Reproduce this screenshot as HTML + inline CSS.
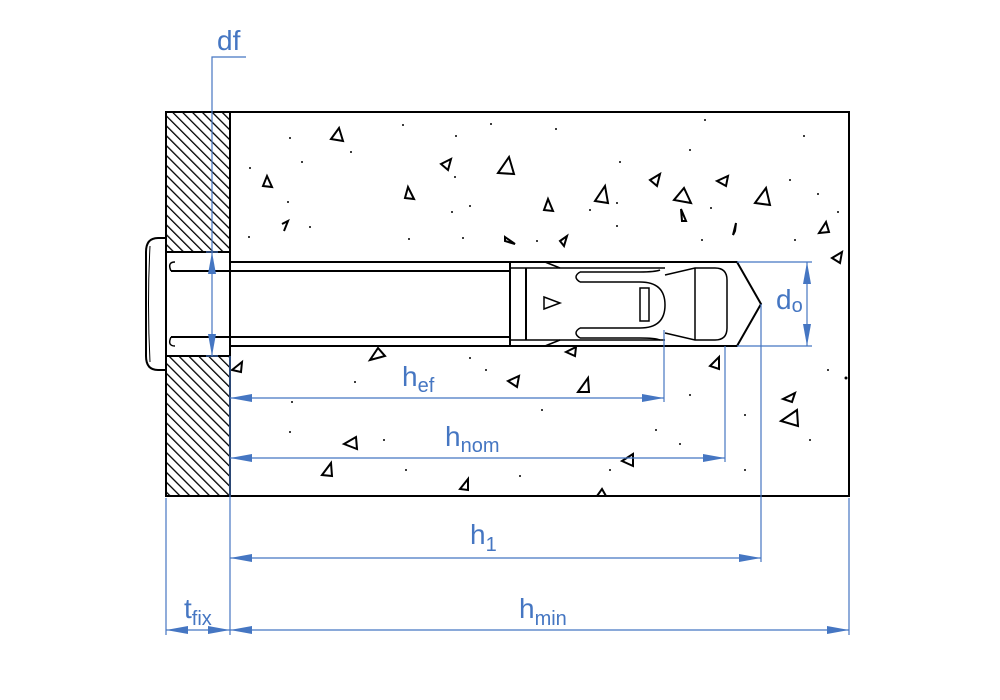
<!DOCTYPE html>
<html><head><style>html,body{margin:0;padding:0;background:#fff}svg{display:block}</style></head><body>
<svg width="1000" height="700" viewBox="0 0 1000 700" xmlns="http://www.w3.org/2000/svg" font-family="Liberation Sans, sans-serif">
<defs>
<pattern id="h" width="7" height="7" patternUnits="userSpaceOnUse" patternTransform="rotate(-45)">
<rect width="7" height="7" fill="#fff"/><line x1="0" y1="0" x2="0" y2="7" stroke="#000" stroke-width="2.6"/></pattern>
</defs>
<!-- wall -->
<rect x="166" y="112" width="64" height="140" fill="url(#h)" stroke="#000" stroke-width="2"/>
<rect x="166" y="356" width="64" height="140" fill="url(#h)" stroke="#000" stroke-width="2"/>
<!-- concrete -->
<rect x="230" y="112" width="619" height="384" fill="none" stroke="#000" stroke-width="2"/>
<g fill="none" stroke="#000" stroke-width="2">
<path d="M343,141 L339,128 L331,139 Z"/><path d="M272,187 L267,176 L263,186 Z"/>
<path d="M414,199 L408,187 L405,198 Z"/><path d="M441,164 L451,159 L448,170 Z"/>
<path d="M514,174 L509,157 L498,173 Z"/><path d="M553,211 L548,199 L544,210 Z"/>
<path d="M282,224 L288,221 L284,231"/><path d="M608,203 L605,186 L595,201 Z"/>
<path d="M682,221 L681,209 L686,221 Z"/><path d="M650,180 L660,174 L657,186 Z"/>
<path d="M691,203 L684,188 L674,200 Z"/><path d="M735,231 L736,223 L733,235 Z"/>
<path d="M505,241 L505,237 L515,244 Z"/><path d="M717,181 L728,176 L726,186 Z"/>
<path d="M770,205 L766,188 L755,203 Z"/><path d="M829,232 L826,222 L819,233 Z"/>
<path d="M832,258 L842,252 L840,263 Z"/><path d="M560,241 L567,236 L564,246 Z"/>
<path d="M370,360 L385,356 L378,348 Z"/><path d="M232,370 L242,362 L241,372 Z"/>
<path d="M508,381 L519,376 L517,387 Z"/><path d="M578,392 L588,378 L589,392 Z"/>
<path d="M566,352 L576,347 L575,356 Z"/><path d="M710,366 L719,357 L719,369 Z"/>
<path d="M783,399 L795,393 L792,402 Z"/><path d="M781,421 L797,410 L798,426 Z"/>
<path d="M344,444 L356,437 L357,449 Z"/><path d="M322,475 L331,463 L332,476 Z"/>
<path d="M622,461 L633,454 L633,466 Z"/><path d="M460,489 L468,479 L468,490 Z"/>
<path d="M597,496 L602,489 L606,496"/>
</g>
<g fill="#000">
<circle cx="403" cy="125" r="1"/><circle cx="491" cy="124" r="1"/><circle cx="290" cy="138" r="1"/><circle cx="456" cy="136" r="1"/><circle cx="556" cy="129" r="1"/><circle cx="302" cy="162" r="1"/><circle cx="351" cy="152" r="1"/><circle cx="620" cy="162" r="1"/><circle cx="690" cy="150" r="1"/><circle cx="705" cy="120" r="1"/><circle cx="804" cy="136" r="1"/><circle cx="250" cy="168" r="1"/><circle cx="455" cy="177" r="1"/><circle cx="617" cy="203" r="1"/><circle cx="288" cy="202" r="1"/><circle cx="409" cy="239" r="1"/><circle cx="452" cy="212" r="1"/><circle cx="463" cy="238" r="1"/><circle cx="470" cy="206" r="1"/><circle cx="590" cy="210" r="1"/><circle cx="617" cy="226" r="1"/><circle cx="537" cy="241" r="1"/><circle cx="249" cy="237" r="1"/><circle cx="310" cy="227" r="1"/><circle cx="790" cy="180" r="1"/><circle cx="711" cy="208" r="1"/><circle cx="702" cy="240" r="1"/><circle cx="838" cy="212" r="1"/><circle cx="818" cy="194" r="1"/><circle cx="795" cy="240" r="1"/><circle cx="846" cy="378" r="1.5"/><circle cx="828" cy="370" r="1"/><circle cx="470" cy="358" r="1"/><circle cx="542" cy="410" r="1"/><circle cx="355" cy="382" r="1"/><circle cx="486" cy="370" r="1"/><circle cx="690" cy="395" r="1"/><circle cx="610" cy="470" r="1"/><circle cx="680" cy="444" r="1"/><circle cx="406" cy="470" r="1"/><circle cx="384" cy="440" r="1"/><circle cx="290" cy="432" r="1"/><circle cx="745" cy="415" r="1"/><circle cx="810" cy="440" r="1"/><circle cx="520" cy="476" r="1"/><circle cx="292" cy="402" r="1"/><circle cx="745" cy="470" r="1"/><circle cx="656" cy="430" r="1"/>
</g>
<!-- bolt in wall -->
<rect x="167" y="253" width="62" height="102" fill="#fff"/>
<line x1="166" y1="252" x2="230" y2="252" stroke="#000" stroke-width="2"/>
<line x1="166" y1="356" x2="230" y2="356" stroke="#000" stroke-width="2"/>
<!-- head -->
<path d="M166,238 L158,238 Q146,238 146,252 L146,356 Q146,370 158,370 L166,370 Z" fill="#fff" stroke="#000" stroke-width="2"/>
<line x1="166" y1="238" x2="166" y2="370" stroke="#000" stroke-width="2"/>
<path d="M150,246 Q147,304 150,362" fill="none" stroke="#000" stroke-width="1"/>
<path d="M171,271 Q167,262 175,262 M171,337 Q167,346 175,346" fill="none" stroke="#000" stroke-width="1.5"/>
<g stroke="#000" stroke-width="2" fill="none">
<line x1="171" y1="271" x2="510" y2="271"/><line x1="230" y1="262" x2="510" y2="262"/>
<line x1="171" y1="337" x2="510" y2="337"/><line x1="230" y1="346" x2="510" y2="346"/>
<!-- sleeve -->
<path d="M510,262 L737,262 L761,304 L737,346 L510,346 Z" fill="#fff"/>
<line x1="526" y1="268" x2="526" y2="340"/>
<path d="M545,262 L560,268 M545,346 L560,340" stroke-width="1.5"/>
<path d="M510,268 L665,268 M510,340 L665,340" stroke-width="1.5"/>
<path d="M580,272 L640,272 Q655,272 660,270 M580,282 L640,282 Q665,282 665,305 Q665,328 640,328 L580,328 M580,338 L640,338 Q655,338 660,340" stroke-width="1.5"/>
<path d="M580,272 Q572,277 580,282 M580,328 Q572,333 580,338" stroke-width="1.5"/>
<path d="M665,275 L695,268 L715,268 Q727,268 727,280 L727,328 Q727,340 715,340 L695,340 L665,333" stroke-width="1.5"/>
<line x1="695" y1="268" x2="695" y2="340" stroke-width="1.5"/>
<rect x="640" y="288" width="9" height="33" stroke-width="1.5"/>
<path d="M544,297 L560,303 L544,309 Z" stroke-width="1.5"/>
</g>
<!-- blue dims -->
<g stroke="#4576c2" stroke-width="1.2" fill="none">
<polyline points="246,57 212,57 212,356"/>
<line x1="206" y1="252" x2="218" y2="252"/><line x1="206" y1="356" x2="218" y2="356"/>
<line x1="737" y1="262" x2="812" y2="262"/><line x1="737" y1="346" x2="812" y2="346"/>
<line x1="807" y1="262" x2="807" y2="346"/>
<line x1="664" y1="330" x2="664" y2="402"/><line x1="230" y1="398" x2="664" y2="398"/>
<line x1="725" y1="346" x2="725" y2="462"/><line x1="230" y1="458" x2="725" y2="458"/>
<line x1="761" y1="304" x2="761" y2="562"/><line x1="230" y1="558" x2="761" y2="558"/>
<line x1="166" y1="498" x2="166" y2="635"/><line x1="230" y1="356" x2="230" y2="635"/><line x1="849" y1="498" x2="849" y2="635"/>
<line x1="166" y1="630" x2="849" y2="630"/>
</g>
<g fill="#4576c2">
<path d="M212,252 L208,274 L216,274 Z"/><path d="M212,356 L208,334 L216,334 Z"/>
<path d="M807,262 L803,284 L811,284 Z"/><path d="M807,346 L803,324 L811,324 Z"/>
<path d="M230,398 L252,394 L252,402 Z"/><path d="M664,398 L642,394 L642,402 Z"/>
<path d="M230,458 L252,454 L252,462 Z"/><path d="M725,458 L703,454 L703,462 Z"/>
<path d="M230,558 L252,554 L252,562 Z"/><path d="M761,558 L739,554 L739,562 Z"/>
<path d="M166,630 L188,626 L188,634 Z"/><path d="M230,630 L208,626 L208,634 Z"/>
<path d="M230,630 L252,626 L252,634 Z"/><path d="M849,630 L827,626 L827,634 Z"/>
</g>
<g fill="#4576c2" font-size="28">
<text x="217" y="50">df</text>
<text x="776" y="309">d<tspan font-size="20" dy="3">o</tspan></text>
<text x="402" y="386">h<tspan font-size="20" dy="6">ef</tspan></text>
<text x="445" y="446">h<tspan font-size="20" dy="6">nom</tspan></text>
<text x="470" y="544">h<tspan font-size="20" dy="7">1</tspan></text>
<text x="184" y="618">t<tspan font-size="20" dy="7">fix</tspan></text>
<text x="519" y="618">h<tspan font-size="20" dy="7">min</tspan></text>
</g>
</svg>
</body></html>
